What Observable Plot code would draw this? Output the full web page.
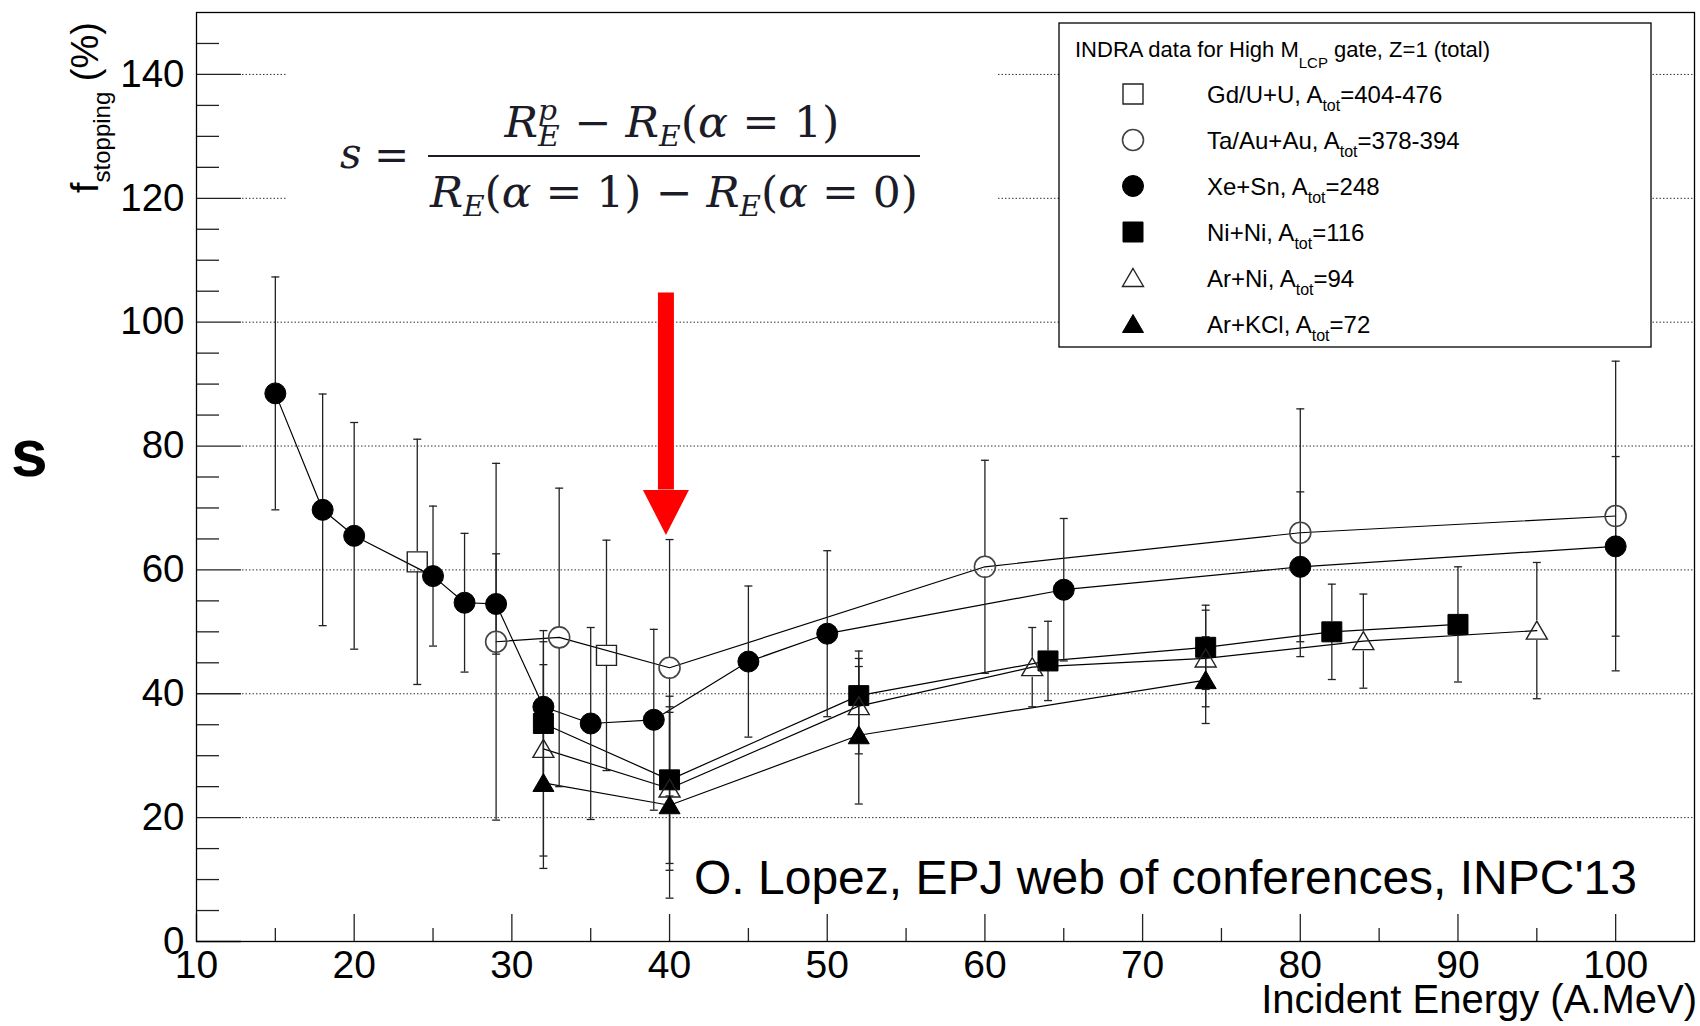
<!DOCTYPE html>
<html><head><meta charset="utf-8">
<script src="https://cdn.jsdelivr.net/npm/d3@7"></script>
<script src="https://cdn.jsdelivr.net/npm/@observablehq/plot@0.6"></script>
<style>
html,body{margin:0;padding:0;background:#fff;}
#chart{position:relative;width:1700px;height:1026px;}
</style></head><body><div id="chart"></div>
<script>
// ---------- data ----------
const seriesNames = ["Gd/U+U", "Ta/Au+Au", "Xe+Sn", "Ni+Ni", "Ar+Ni", "Ar+KCl"];
const legendPrefix = ["Gd/U+U, A", "Ta/Au+Au, A", "Xe+Sn, A", "Ni+Ni, A", "Ar+Ni, A", "Ar+KCl, A"];
const legendSuffix = ["=404-476", "=378-394", "=248", "=116", "=94", "=72"];

const gdE = [24, 36];
const gdS = [61.3, 46.2];
const gdErr = [19.8, 18.6];

const taE = [29, 33, 40, 60, 80, 100];
const taS = [48.4, 49.1, 44.2, 60.5, 66.0, 68.7];
const taErr = [28.8, 24.1, 20.7, 17.2, 20.0, 25.0];

const xeE = [15, 18, 20, 25, 27, 29, 32, 35, 39, 45, 50, 65, 80, 100];
const xeS = [88.5, 69.7, 65.5, 59.0, 54.7, 54.5, 37.9, 35.2, 35.8, 45.2, 49.7, 56.8, 60.5, 63.8];
const xeErr = [18.8, 18.7, 18.3, 11.3, 11.2, 8.1, 12.3, 15.5, 14.6, 12.2, 13.4, 11.5, 12.1, 14.5];

const niE = [32, 40, 52, 64, 74, 82, 90];
const niS = [35.2, 26.1, 39.7, 45.3, 47.5, 50.0, 51.2];
const niErr = [9.5, 13.5, 7.2, 6.4, 6.8, 7.7, 9.3];

const arNiE = [32, 40, 52, 63, 74, 84, 95];
const arNiS = [31.1, 24.7, 38.0, 44.3, 45.7, 48.5, 50.2];
const arNiErr = [17.3, 13.2, 7.7, 6.4, 7.8, 7.6, 11.0];

const arKE = [32, 40, 52, 74];
const arKS = [25.6, 22.0, 33.3, 42.2];
const arKErr = [13.8, 15.0, 11.1, 7.0];

const xTicks = [10, 20, 30, 40, 50, 60, 70, 80, 90, 100];
const xMinor = [15, 25, 35, 45, 55, 65, 75, 85, 95];
const yTicks = [0, 20, 40, 60, 80, 100, 120, 140];
const yMinor = [5, 10, 15, 25, 30, 35, 45, 50, 55, 65, 70, 75, 85, 90, 95, 105, 110, 115, 125, 130, 135, 145];

// annotation arrow (data coords)
const arrowX = [39.77];
const arrowTopY = [104.7];
const arrowBaseY = [72.9];

const citation = "O. Lopez, EPJ web of conferences, INPC'13";
const xTitle = "Incident Energy (A.MeV)";

// ---------- build table ----------
const rows = [];
function addSeries(name, E, S, Er) { E.forEach((e, i) => rows.push({series: name, e, s: S[i], err: Er[i]})); }
addSeries(seriesNames[0], gdE, gdS, gdErr);
addSeries(seriesNames[1], taE, taS, taErr);
addSeries(seriesNames[2], xeE, xeS, xeErr);
addSeries(seriesNames[3], niE, niS, niErr);
addSeries(seriesNames[4], arNiE, arNiS, arNiErr);
addSeries(seriesNames[5], arKE, arKS, arKErr);

// ---------- symbols ----------
const symSquare = {draw(c) { c.moveTo(-10, -10); c.lineTo(10, -10); c.lineTo(10, 10); c.lineTo(-10, 10); c.closePath(); }};
const symCircle = {draw(c) { c.moveTo(10.5, 0); c.arc(0, 0, 10.5, 0, 2 * Math.PI); c.closePath(); }};
const symTri = {draw(c) { c.moveTo(0, -9.5); c.lineTo(10.5, 8.5); c.lineTo(-10.5, 8.5); c.closePath(); }};
const symCap = {draw(c) { c.moveTo(-4, 0); c.lineTo(4, 0); }};
const symHead = {draw(c) { c.moveTo(-23, 0); c.lineTo(23, 0); c.lineTo(0, 45); c.closePath(); }};

const styleMap = {
  "Gd/U+U":   {symbol: symSquare, fill: "none", stroke: "#222", sw: 1.4},
  "Ta/Au+Au": {symbol: symCircle, fill: "none", stroke: "#444", sw: 1.6},
  "Xe+Sn":    {symbol: symCircle, fill: "black", stroke: "black", sw: 1},
  "Ni+Ni":    {symbol: symSquare, fill: "black", stroke: "black", sw: 1},
  "Ar+Ni":    {symbol: symTri, fill: "none", stroke: "#222", sw: 1.4},
  "Ar+KCl":   {symbol: symTri, fill: "black", stroke: "black", sw: 1}
};

const W = 1700, H = 1026, mL = 196, mR = 6, mT = 12, mB = 85;
const innerW = W - mL - mR, innerH = H - mT - mB;
const tickColor = "#222";

const markerMarks = seriesNames.map(n => Plot.dot(rows.filter(d => d.series === n), {
  x: "e", y: "s", symbol: styleMap[n].symbol, fill: styleMap[n].fill,
  stroke: styleMap[n].stroke, strokeWidth: styleMap[n].sw
}));

const chart = Plot.plot({
  width: W, height: H,
  marginLeft: mL, marginRight: mR, marginTop: mT, marginBottom: mB,
  x: {domain: [10, 105], label: null},
  y: {domain: [0, 150], label: null},
  style: {fontFamily: "'Liberation Sans', Arial, Helvetica, sans-serif", color: "black", background: "white", overflow: "visible"},
  marks: [
    Plot.ruleY(yTicks.filter(d => d > 0), {y: d => d, stroke: "#333", strokeWidth: 1, strokeDasharray: "1.5,2", insetLeft: 46}),
    Plot.tickY(yMinor, {y: d => d, stroke: tickColor, strokeWidth: 1.3, insetRight: innerW - 23}),
    Plot.tickY(yTicks, {y: d => d, stroke: tickColor, strokeWidth: 1.3, insetRight: innerW - 45}),
    Plot.tickX(xMinor, {x: d => d, stroke: tickColor, strokeWidth: 1.3, insetTop: innerH - 13}),
    Plot.tickX(xTicks, {x: d => d, stroke: tickColor, strokeWidth: 1.3, insetTop: innerH - 27}),
    Plot.line(rows.filter(d => d.series !== "Gd/U+U"), {x: "e", y: "s", z: "series", stroke: "black", strokeWidth: 1.2}),
    Plot.ruleX(rows, {x: "e", y1: d => d.s + d.err, y2: "s", insetBottom: 10, stroke: "#222", strokeWidth: 1.3}),
    Plot.ruleX(rows, {x: "e", y1: "s", y2: d => d.s - d.err, insetTop: 10, stroke: "#222", strokeWidth: 1.3}),
    Plot.dot(rows, {x: "e", y: d => d.s + d.err, symbol: symCap, fill: "none", stroke: "#222", strokeWidth: 1.3}),
    Plot.dot(rows, {x: "e", y: d => d.s - d.err, symbol: symCap, fill: "none", stroke: "#222", strokeWidth: 1.3}),
    ...markerMarks,
    Plot.ruleX(arrowX, {x: d => d, y1: (d, i) => arrowTopY[i], y2: (d, i) => arrowBaseY[i], stroke: "red", strokeWidth: 16}),
    Plot.dot(arrowX, {x: d => d, y: (d, i) => arrowBaseY[i], symbol: symHead, fill: "red", stroke: "none"}),
    Plot.frame({stroke: "black", strokeWidth: 1.3}),
    Plot.axisX({ticks: xTicks, tickSize: 0, tickPadding: 9, fontSize: 39, tickFormat: d => String(d), label: null}),
    Plot.axisY({ticks: yTicks, tickSize: 0, tickPadding: 12, fontSize: 38.5, tickFormat: d => String(d), label: null})
  ]
});
document.getElementById("chart").appendChild(chart);

// ---------- annotations ----------
const svg = d3.select(chart);
const sans = "'Liberation Sans', Arial, Helvetica, sans-serif";
const serif = "'DejaVu Serif', 'Liberation Serif', serif";
const ann = svg.append("g").attr("text-anchor", "start");

// formula white panel
const fg = ann.append("g").attr("text-anchor", "start");
fg.append("rect").attr("x", 287).attr("y", 30).attr("width", 711).attr("height", 210).attr("fill", "white");

function mathRow(pieces, cx, baseline, targetW) {
  const g = fg.append("g");
  let x = 0, lastStart = 0, lastW = 0;
  for (const p of pieces) {
    const t = g.append("text").text(p.t)
      .attr("text-anchor", "start")
      .attr("font-family", serif).attr("font-size", p.size)
      .attr("font-style", p.it ? "italic" : "normal")
      .attr("fill", "#1c1c28")
      .attr("y", p.dy || 0)
      .style("white-space", "pre");
    const w = t.node().getComputedTextLength();
    if (p.stack) { t.attr("x", lastStart); x = lastStart + Math.max(w, lastW); }
    else { t.attr("x", x); lastStart = x; lastW = w; x += w; }
  }
  const sx = targetW / x;
  g.attr("transform", `translate(${cx - targetW / 2},${baseline}) scale(${sx},1)`);
}
const F = 42, f2 = 28;
mathRow([
  {t: "R", size: F, it: true}, {t: "p", size: f2, it: true, dy: -17}, {t: "E", size: f2, it: true, dy: 9, stack: true},
  {t: " − ", size: F}, {t: "R", size: F, it: true}, {t: "E", size: f2, it: true, dy: 9},
  {t: "(", size: F}, {t: "α", size: F, it: true}, {t: " = 1)", size: F}
], 672, 137, 335);
mathRow([
  {t: "R", size: F, it: true}, {t: "E", size: f2, it: true, dy: 9},
  {t: "(", size: F}, {t: "α", size: F, it: true}, {t: " = 1) − ", size: F},
  {t: "R", size: F, it: true}, {t: "E", size: f2, it: true, dy: 9},
  {t: "(", size: F}, {t: "α", size: F, it: true}, {t: " = 0)", size: F}
], 674, 207, 488);
fg.append("line").attr("x1", 428).attr("x2", 920).attr("y1", 156).attr("y2", 156).attr("stroke", "#1c1c28").attr("stroke-width", 2);
fg.append("text").attr("text-anchor", "start").attr("x", 340).attr("y", 168).attr("font-family", serif).attr("font-size", F).attr("font-style", "italic").attr("fill", "#1c1c28").text("s");
fg.append("text").attr("text-anchor", "start").attr("x", 374).attr("y", 170).attr("font-family", serif).attr("font-size", F).attr("fill", "#1c1c28").text("=");

// legend
const lg = ann.append("g").attr("font-family", sans).attr("text-anchor", "start");
lg.append("rect").attr("x", 1059).attr("y", 23).attr("width", 592).attr("height", 324).attr("fill", "white").attr("stroke", "black").attr("stroke-width", 1.3);
const tt = lg.append("text").attr("text-anchor", "start").attr("x", 1075).attr("y", 57).attr("font-size", 22).attr("fill", "black");
tt.append("tspan").text("INDRA data for High M");
tt.append("tspan").attr("font-size", 15).attr("dy", 11).text("LCP");
tt.append("tspan").attr("dy", -11).text(" gate, Z=1 (total)");
const rowY = [94, 140, 186, 232, 278, 324];
seriesNames.forEach((n, i) => {
  const st = styleMap[n];
  lg.append("path").attr("transform", `translate(1133,${rowY[i]})`)
    .attr("d", d3.symbol(st.symbol)())
    .attr("fill", st.fill).attr("stroke", st.stroke).attr("stroke-width", st.sw);
  const t = lg.append("text").attr("text-anchor", "start").attr("x", 1207).attr("y", rowY[i] + 9).attr("font-size", 24).attr("fill", "black");
  t.append("tspan").text(legendPrefix[i]);
  t.append("tspan").attr("font-size", 16).attr("dy", 8).text("tot");
  t.append("tspan").attr("dy", -8).text(legendSuffix[i]);
});

// citation
ann.append("text").attr("text-anchor", "start").attr("x", 694).attr("y", 894).attr("font-family", sans).attr("font-size", 48).attr("fill", "black").text(citation);

// x title
ann.append("text").attr("x", 1697).attr("y", 1013).attr("text-anchor", "end").attr("font-family", sans).attr("font-size", 40).attr("fill", "black").text(xTitle);

// y title
const yt = ann.append("text").attr("text-anchor", "start").attr("transform", "translate(97.6,193) rotate(-90)").attr("font-family", sans).attr("font-size", 38).attr("fill", "black");
yt.append("tspan").text("f");
yt.append("tspan").attr("font-size", 24).attr("dy", 12).text("stopping");
yt.append("tspan").attr("dy", -12).text(" (%)");

// big "s"
ann.append("text").attr("text-anchor", "start").attr("x", 11).attr("y", 476).attr("font-family", sans).attr("font-weight", "bold").attr("font-size", 66).attr("fill", "black").text("s");
</script>
</body></html>
